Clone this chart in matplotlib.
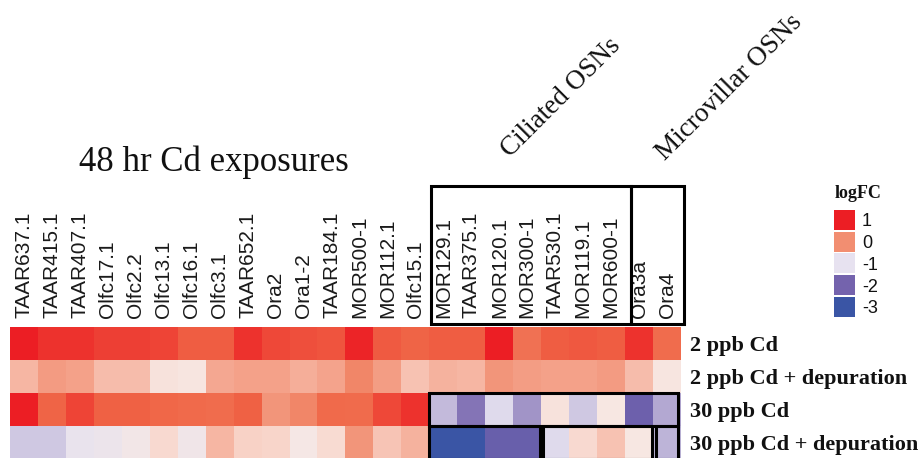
import matplotlib
matplotlib.use('Agg')
import matplotlib.pyplot as plt
import numpy as np
from matplotlib.colors import LinearSegmentedColormap, Normalize
from matplotlib.patches import Rectangle

# ---------------- data ----------------
genes = ['TAAR637.1', 'TAAR415.1', 'TAAR407.1', 'Olfc17.1', 'Olfc2.2', 'Olfc13.1',
         'Olfc16.1', 'Olfc3.1', 'TAAR652.1', 'Ora2', 'Ora1-2', 'TAAR184.1',
         'MOR500-1', 'MOR112.1', 'Olfc15.1', 'MOR129.1', 'TAAR375.1', 'MOR120.1',
         'MOR300-1', 'TAAR530.1', 'MOR119.1', 'MOR600-1', 'Ora3a', 'Ora4']
conditions = ['2 ppb Cd', '2 ppb Cd + depuration', '30 ppb Cd', '30 ppb Cd + depuration']

fc_2ppb = [1.0, 0.85, 0.85, 0.75, 0.75, 0.73, 0.55, 0.55, 0.85, 0.70, 0.65, 0.62,
           0.95, 0.57, 0.50, 0.55, 0.55, 1.0, 0.35, 0.55, 0.58, 0.55, 0.85, 0.42]
fc_2ppb_dep = [-0.30, -0.10, -0.15, -0.35, -0.35, -0.70, -0.72, -0.20, -0.15, -0.15, -0.25, -0.17,
               0.10, -0.12, -0.40, -0.28, -0.30, -0.05, -0.12, -0.15, -0.15, -0.10, -0.35, -0.72]
fc_30ppb = [1.0, 0.50, 0.73, 0.52, 0.52, 0.48, 0.44, 0.42, 0.52, -0.05, 0.10, 0.45,
            0.43, 0.70, 0.85, -1.30, -1.85, -1.05, -1.60, -0.70, -1.20, -0.75, -2.10, -1.45]
fc_30ppb_dep = [-1.20, -1.20, -0.95, -0.90, -0.82, -0.60, -0.85, -0.30, -0.52, -0.55, -0.78, -0.62,
                -0.05, -0.42, -0.28, -3.0, -3.0, -2.20, -2.20, -1.05, -0.60, -0.40, -0.75, -1.35]

legend_values = [1, 0, -1, -2, -3]

# ---------------- style ----------------
anchors = [(-3, '#3A55A5'), (-2, '#7462AD'), (-1, '#E6E2F0'), (-0.75, '#F7E8E4'),
           (-0.5, '#F9D0C4'), (0, '#F28F72'), (0.5, '#F06647'), (1, '#EC1E24')]
vmin, vmax = -3, 1
cmap = LinearSegmentedColormap.from_list(
    'logfc', [((v - vmin) / (vmax - vmin), c) for v, c in anchors])
norm = Normalize(vmin=vmin, vmax=vmax)

W, H = 924, 458
fig = plt.figure(figsize=(W / 100, H / 100), dpi=100)

data = np.array([fc_2ppb, fc_2ppb_dep, fc_30ppb, fc_30ppb_dep])

ax = fig.add_axes([10 / W, (H - 459) / H, 671 / W, 132 / H])
ax.imshow(data, cmap=cmap, norm=norm, aspect='auto', interpolation='nearest')
for s in ax.spines.values():
    s.set_visible(False)

ax.set_xticks(range(len(genes)))
ax.set_xticklabels(genes, rotation=90, fontfamily='Liberation Sans', fontsize=15, color='#1a1a1a')
ax.xaxis.tick_top()
ax.tick_params(axis='x', length=0, pad=6.5)

ax.set_yticks(range(len(conditions)))
ax.set_yticklabels(conditions, fontfamily='Liberation Serif', fontweight='bold', fontsize=16,
                   color='#111111')
ax.yaxis.tick_right()
ax.tick_params(axis='y', length=0, pad=6.5)

lw = 2.2
def box(x0, x1, y0, y1):
    ax.add_patch(Rectangle((x0, y0), x1 - x0, y1 - y0, fill=False, edgecolor='black',
                           linewidth=lw, clip_on=False, zorder=5))

# header boxes
box(14.55, 21.7, -4.77, -0.59)
box(21.7, 23.6, -4.77, -0.59)
# 30 ppb Cd box
box(14.5, 23.39, 1.5, 2.5)
# 30 ppb Cd + depuration boxes
box(14.5, 18.46, 2.5, 3.5)
box(18.56, 22.46, 2.5, 3.5)
box(22.59, 23.39, 2.5, 3.5)

# titles
fig.text(214 / W, 1 - 171 / H, '48 hr Cd exposures', fontfamily='Liberation Serif',
         fontsize=25, ha='center', va='baseline', color='#111111')
fig.text(561 / W, 1 - 98 / H, 'Ciliated OSNs', fontfamily='Liberation Serif',
         fontsize=19.5, ha='center', va='center', rotation=45, color='#111111')
fig.text(729 / W, 1 - 87 / H, 'Microvillar OSNs', fontfamily='Liberation Serif',
         fontsize=19.5, ha='center', va='center', rotation=45, color='#111111')

# legend
fig.text(858 / W, 1 - 198 / H, 'logFC', fontfamily='Liberation Serif', fontweight='bold',
         fontsize=13, ha='center', va='baseline', color='#111111')
for i, v in enumerate(legend_values):
    top = 210 + i * 21.7
    fig.patches.append(Rectangle((834 / W, 1 - (top + 20) / H), 21 / W, 20 / H,
                                 transform=fig.transFigure, facecolor=cmap(norm(v)),
                                 edgecolor='none'))
    fig.text(862 / W, 1 - (top + 12) / H, str(v), fontfamily='Liberation Sans',
             fontsize=13, ha='left', va='center', color='#111111')

fig.savefig('out.png', dpi=100)
